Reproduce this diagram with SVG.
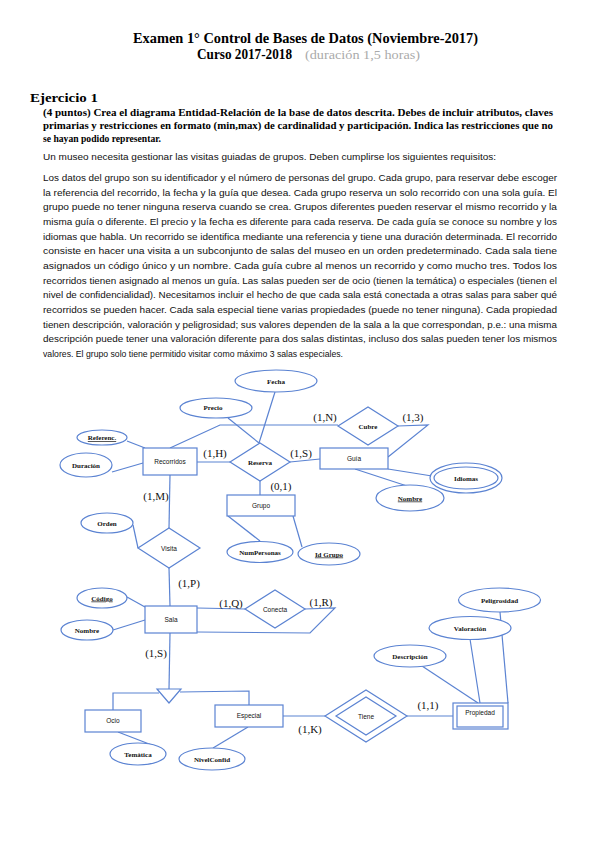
<svg xmlns="http://www.w3.org/2000/svg" width="599" height="848" viewBox="0 0 599 848">
<style>
.bg{fill:#fff}
.h{font-family:"Liberation Serif",serif;font-weight:bold;fill:#000}
.body{font-family:"Liberation Sans",Arial,sans-serif;font-size:9px;fill:#111}
.s{fill:none;stroke:#5b83d2;stroke-width:1.2}
.n{fill:#fff;stroke:#5b83d2;stroke-width:1.2}
.ent{font-family:"Liberation Sans",Arial,sans-serif;font-size:6.5px;fill:#111;text-anchor:middle}
.att{font-family:"Liberation Serif",serif;font-size:7px;font-weight:bold;fill:#111;text-anchor:middle}
.card{font-family:"Liberation Serif",serif;font-size:11px;fill:#111;text-anchor:middle}
.u{text-decoration:underline}
</style>
<rect class="bg" x="0" y="0" width="599" height="848"/>
<g id="header">
<text class="h" x="133" y="43" font-size="14" textLength="345" lengthAdjust="spacingAndGlyphs">Examen 1° Control  de Bases de Datos (Noviembre-2017)</text>
<text class="h" x="197" y="59" font-size="14" textLength="95" lengthAdjust="spacingAndGlyphs">Curso 2017-2018</text>
<text x="305" y="59" font-family="Liberation Serif,serif" font-size="13" fill="#aaa" textLength="115" lengthAdjust="spacingAndGlyphs">(duración 1,5 horas)</text>
<text class="h" x="30" y="102" font-size="13" textLength="68" lengthAdjust="spacingAndGlyphs">Ejercicio 1</text>
<text class="h" x="43" y="116" font-size="10" textLength="510" lengthAdjust="spacingAndGlyphs">(4 puntos) Crea el diagrama Entidad-Relación de la base de datos descrita. Debes de incluir atributos, claves</text>
<text class="h" x="43" y="129" font-size="10" textLength="510" lengthAdjust="spacingAndGlyphs">primarias y restricciones en formato (min,max) de cardinalidad y participación. Indica las restricciones que no</text>
<text class="h" x="43" y="142" font-size="10" textLength="118" lengthAdjust="spacingAndGlyphs">se hayan podido representar.</text>
</g>
<g id="statement">
<text class="body" x="43" y="160" textLength="453" lengthAdjust="spacingAndGlyphs">Un museo necesita gestionar las visitas guiadas de grupos. Deben cumplirse los siguientes requisitos:</text>
<text class="body" x="43" y="181" textLength="514" lengthAdjust="spacingAndGlyphs">Los datos del grupo son su identificador y el número de personas del grupo. Cada grupo, para reservar debe escoger</text>
<text class="body" x="43" y="195.7" textLength="514" lengthAdjust="spacingAndGlyphs">la referencia del recorrido, la fecha y la guía que desea. Cada grupo reserva un solo recorrido con una sola guía. El</text>
<text class="body" x="43" y="210.3" textLength="514" lengthAdjust="spacingAndGlyphs">grupo puede no tener ninguna reserva cuando se crea. Grupos diferentes pueden reservar el mismo recorrido y la</text>
<text class="body" x="43" y="225" textLength="514" lengthAdjust="spacingAndGlyphs">misma guía o diferente. El precio y la fecha es diferente para cada reserva. De cada guía se conoce su nombre y los</text>
<text class="body" x="43" y="239.7" textLength="514" lengthAdjust="spacingAndGlyphs">idiomas que habla. Un recorrido se identifica mediante una referencia y tiene una duración determinada. El recorrido</text>
<text class="body" x="43" y="254.3" textLength="514" lengthAdjust="spacingAndGlyphs">consiste en hacer una visita a un subconjunto de salas del museo en un orden predeterminado. Cada sala tiene</text>
<text class="body" x="43" y="269" textLength="514" lengthAdjust="spacingAndGlyphs">asignados un código único y un nombre. Cada guía cubre al menos un recorrido y como mucho tres. Todos los</text>
<text class="body" x="43" y="283.7" textLength="514" lengthAdjust="spacingAndGlyphs">recorridos tienen asignado al menos un guía. Las salas pueden ser de ocio (tienen la temática) o especiales (tienen el</text>
<text class="body" x="43" y="298.3" textLength="514" lengthAdjust="spacingAndGlyphs">nivel de confidencialidad). Necesitamos incluir el hecho de que cada sala está conectada a otras salas para saber qué</text>
<text class="body" x="43" y="313" textLength="514" lengthAdjust="spacingAndGlyphs">recorridos se pueden hacer. Cada sala especial tiene varias propiedades (puede no tener ninguna). Cada propiedad</text>
<text class="body" x="43" y="327.7" textLength="514" lengthAdjust="spacingAndGlyphs">tienen descripción, valoración y peligrosidad; sus valores dependen de la sala a la que correspondan, p.e.: una misma</text>
<text class="body" x="43" y="342.3" textLength="514" lengthAdjust="spacingAndGlyphs">descripción puede tener una valoración diferente para dos salas distintas, incluso dos salas pueden tener los mismos</text>
<text class="body" x="43" y="357" textLength="300" lengthAdjust="spacingAndGlyphs">valores. El grupo solo tiene permitido visitar como máximo 3 salas especiales.</text>
</g>
<g id="connectors">
<polyline class="s" points="170,448 220,425 338,425"/>
<polyline class="s" points="398,426 428,425 388,457"/>
<line class="s" x1="197" y1="462" x2="230" y2="462"/>
<line class="s" x1="290" y1="462" x2="320" y2="459"/>
<line class="s" x1="260" y1="481" x2="260" y2="495"/>
<line class="s" x1="275" y1="392" x2="259" y2="443"/>
<line class="s" x1="228" y1="418" x2="259" y2="443"/>
<line class="s" x1="127" y1="441" x2="145" y2="448"/>
<line class="s" x1="112" y1="472" x2="143" y2="463"/>
<line class="s" x1="170" y1="475" x2="169" y2="528"/>
<line class="s" x1="133" y1="525" x2="138" y2="548"/>
<line class="s" x1="169" y1="568" x2="170" y2="606"/>
<line class="s" x1="228" y1="516" x2="260" y2="541"/>
<line class="s" x1="293" y1="516" x2="302" y2="547"/>
<line class="s" x1="388" y1="469" x2="432" y2="476"/>
<line class="s" x1="355" y1="469" x2="407" y2="486"/>
<line class="s" x1="127" y1="597" x2="145" y2="607"/>
<line class="s" x1="113" y1="630" x2="145" y2="620"/>
<line class="s" x1="197" y1="608" x2="245" y2="609"/>
<polyline class="s" points="305,609 335,608 310,633 197,632"/>
<line class="s" x1="170" y1="633" x2="169" y2="689"/>
<polyline class="s" points="113,710 113,693 159,693"/>
<polyline class="s" points="180,692 249,691 249,705"/>
<line class="s" x1="118" y1="732" x2="157" y2="747"/>
<line class="s" x1="248" y1="727" x2="213" y2="748"/>
<line class="s" x1="283" y1="716" x2="325" y2="716"/>
<line class="s" x1="407" y1="716" x2="453" y2="716"/>
<line class="s" x1="500" y1="612" x2="508" y2="703"/>
<line class="s" x1="470" y1="639" x2="480" y2="703"/>
<line class="s" x1="422" y1="666" x2="478" y2="703"/>
</g>
<g id="isa"><polygon class="n" points="157,689 181,689 169,703"/></g>
<g id="recorridos"><rect class="n" x="143" y="448" width="54" height="27"/><text class="ent" x="170" y="464">Recorridos</text></g>
<g id="guia"><rect class="n" x="320" y="448" width="68" height="21"/><text class="ent" x="354" y="461">Guía</text></g>
<g id="grupo"><rect class="n" x="227" y="495" width="68" height="21"/><text class="ent" x="261" y="508">Grupo</text></g>
<g id="sala"><rect class="n" x="145" y="606" width="52" height="27"/><text class="ent" x="171" y="622">Sala</text></g>
<g id="ocio"><rect class="n" x="85" y="710" width="56" height="22"/><text class="ent" x="113" y="723">Ocio</text></g>
<g id="especial"><rect class="n" x="215" y="705" width="68" height="22"/><text class="ent" x="249" y="718">Especial</text></g>
<g id="propiedad"><rect class="n" x="453" y="703" width="55" height="26"/><rect class="s" x="457" y="706" width="46" height="21"/><text class="ent" x="480" y="715">Propiedad</text></g>
<g id="reserva"><polygon class="n" points="230,462 260,443 290,462 260,481"/><text class="att" x="260" y="465">Reserva</text></g>
<g id="cubre"><polygon class="n" points="338,426 368,407 398,426 368,445"/><text class="att" x="368" y="429">Cubre</text></g>
<g id="visita"><polygon class="n" points="138,548 169,528 200,548 169,568"/><text class="ent" x="169" y="551">Visita</text></g>
<g id="conecta"><polygon class="n" points="245,609 275,590 305,609 275,628"/><text class="ent" x="275" y="612">Conecta</text></g>
<g id="tiene"><polygon class="n" points="325,716 366,690 407,716 366,742"/><polygon class="s" points="336,716 366,697 396,716 366,735"/><text class="ent" x="366" y="719">Tiene</text></g>
<g id="fecha"><ellipse class="n" cx="276" cy="381" rx="41" ry="11"/><text class="att" x="276" y="383.5">Fecha</text></g>
<g id="precio"><ellipse class="n" cx="216" cy="408" rx="36" ry="10"/><text class="att" x="213" y="410">Precio</text></g>
<g id="referenc"><ellipse class="n" cx="102" cy="437.5" rx="25" ry="7.5"/><text class="att u" x="102" y="440">Referenc.</text></g>
<g id="duracion"><ellipse class="n" cx="86" cy="465" rx="26" ry="12"/><text class="att" x="86" y="467.5">Duración</text></g>
<g id="idiomas"><ellipse class="n" cx="466" cy="478" rx="36" ry="15"/><ellipse class="s" cx="466" cy="478" rx="32" ry="11"/><text class="att" x="466" y="480.5">Idiomas</text></g>
<g id="nombre-guia"><ellipse class="n" cx="410" cy="498" rx="34" ry="13"/><text class="att u" x="410" y="500.5">Nombre</text></g>
<g id="orden"><ellipse class="n" cx="107" cy="523" rx="26" ry="10"/><text class="att" x="107" y="525.5">Orden</text></g>
<g id="numpersonas"><ellipse class="n" cx="260" cy="552" rx="33" ry="10.5"/><text class="att" x="260" y="554.5">NumPersonas</text></g>
<g id="idgrupo"><ellipse class="n" cx="329" cy="554" rx="31" ry="11"/><text class="att u" x="329" y="556.5">Id Grupo</text></g>
<g id="codigo"><ellipse class="n" cx="102" cy="598" rx="25" ry="10"/><text class="att u" x="102" y="600.5">Código</text></g>
<g id="nombre-sala"><ellipse class="n" cx="87" cy="630" rx="26" ry="10"/><text class="att" x="87" y="632.5">Nombre</text></g>
<g id="tematica"><ellipse class="n" cx="138" cy="754" rx="28" ry="11"/><text class="att" x="138" y="756.5">Temática</text></g>
<g id="nivelconfid"><ellipse class="n" cx="212" cy="759" rx="33" ry="11"/><text class="att" x="212" y="761.5">NivelConfid</text></g>
<g id="peligrosidad"><ellipse class="n" cx="499.5" cy="600" rx="41" ry="12"/><text class="att" x="499.5" y="602.5">Peligrosidad</text></g>
<g id="valoracion"><ellipse class="n" cx="470" cy="628" rx="41" ry="11.5"/><text class="att" x="470" y="630.5">Valoración</text></g>
<g id="descripcion"><ellipse class="n" cx="410" cy="656" rx="36" ry="11"/><text class="att" x="410" y="658.5">Descripción</text></g>
<g id="cardinalities">
<text class="card" x="325" y="421">(1,N)</text>
<text class="card" x="413" y="421">(1,3)</text>
<text class="card" x="215" y="457">(1,H)</text>
<text class="card" x="301" y="457">(1,S)</text>
<text class="card" x="281" y="490">(0,1)</text>
<text class="card" x="156" y="500">(1,M)</text>
<text class="card" x="189" y="587">(1,P)</text>
<text class="card" x="231" y="607">(1,Q)</text>
<text class="card" x="321" y="606">(1,R)</text>
<text class="card" x="156" y="657">(1,S)</text>
<text class="card" x="310" y="733">(1,K)</text>
<text class="card" x="428" y="709">(1,1)</text>
</g>
</svg>
